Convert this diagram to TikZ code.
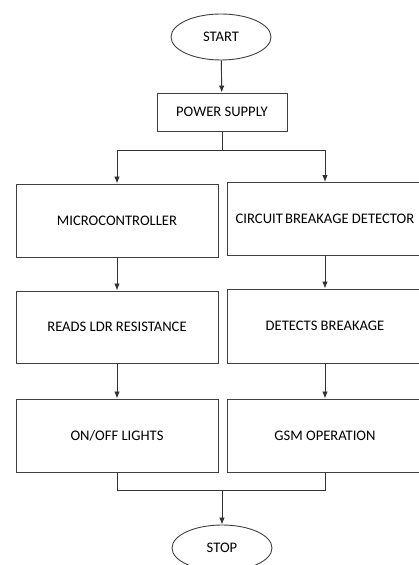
\documentclass[tikz,border=0pt]{standalone}
\usepackage{fontspec}
\setmainfont{Carlito}
\usetikzlibrary{shapes.geometric,arrows.meta}
\begin{document}
\begin{tikzpicture}[x=1pt,y=1pt,
  font=\fontsize{14.6}{16}\selectfont,
  terminal/.style={ellipse, draw=black!75, line width=0.9pt, fill=white, minimum width=100pt, minimum height=46pt, inner sep=0pt},
  procbox/.style={rectangle, draw=black!75, line width=0.9pt, fill=white, minimum height=73pt, inner sep=0pt},
  arr/.style={draw=black!80, line width=0.9pt, -{Latex[length=7pt,width=5.5pt]}},
  line/.style={draw=black!80, line width=0.9pt}]
\clip (0,0) rectangle (419,565);
\node [terminal] (start) at (221,528) {START};
\node [procbox, minimum width=130pt, minimum height=38pt] (power) at (222,453) {POWER SUPPLY};
\node [procbox, minimum width=202pt] (micro) at (117,344.5) {MICROCONTROLLER};
\node [procbox, minimum width=196pt] (cbd) at (325,346) {CIRCUIT\kern0.15em BREAKAGE DETECTOR};
\node [procbox, minimum width=202pt, minimum height=72pt] (ldr) at (117,238) {READS LDR RESISTANCE};
\node [procbox, minimum width=196pt, minimum height=74pt] (brk) at (325,239) {DETECTS BREAKAGE};
\node [procbox, minimum width=202pt] (lights) at (117,129.5) {ON/OFF LIGHTS};
\node [procbox, minimum width=196pt] (gsm) at (325,129.5) {GSM OPERATION};
\node [terminal] (stop) at (222,17) {STOP};
\coordinate (split) at (222,415);
\coordinate (merge) at (222,75);
\draw [arr] (start) -- (power);
\draw [line] (power) -- (split);
\draw [arr] (split) -| (micro);
\draw [arr] (split) -| (cbd);
\draw [arr] (micro) -- (ldr);
\draw [arr] (ldr) -- (lights);
\draw [arr] (cbd) -- (brk);
\draw [arr] (brk) -- (gsm);
\draw [line] (lights) |- (merge);
\draw [line] (gsm) |- (merge);
\draw [arr] (merge) -- (stop);
\end{tikzpicture}
\end{document}
